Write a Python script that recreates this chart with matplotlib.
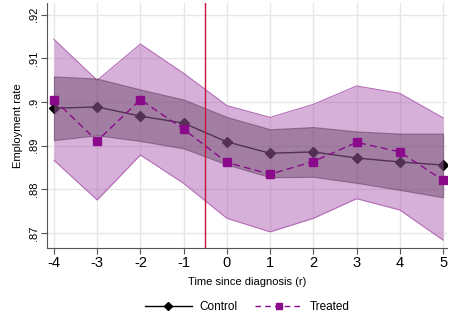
import matplotlib.pyplot as plt
from matplotlib.lines import Line2D

plt.rcParams['font.family'] = ['Liberation Sans', 'DejaVu Sans']

periods = [-4, -3, -2, -1, 0, 1, 2, 3, 4, 5]

control = [0.8986, 0.8989, 0.8968, 0.8952, 0.8909, 0.8883, 0.8886, 0.8872, 0.8863, 0.8856]
control_hi = [0.9059, 0.9054, 0.9029, 0.9006, 0.8966, 0.8938, 0.8943, 0.8933, 0.8928, 0.8928]
control_lo = [0.8913, 0.8924, 0.8911, 0.8894, 0.8857, 0.8828, 0.8829, 0.8815, 0.8799, 0.8782]

treated = [0.9006, 0.8911, 0.9006, 0.8938, 0.8862, 0.8835, 0.8864, 0.8908, 0.8886, 0.8821]
treated_hi = [0.9144, 0.9050, 0.9133, 0.9066, 0.8992, 0.8965, 0.8995, 0.9037, 0.9020, 0.8964]
treated_lo = [0.8867, 0.8776, 0.8879, 0.8814, 0.8734, 0.8703, 0.8734, 0.8779, 0.8753, 0.8684]

yticks = [0.87, 0.88, 0.89, 0.90, 0.91, 0.92]
ytick_labels = [".87", ".88", ".89", ".9", ".91", ".92"]

fig = plt.figure(figsize=(4.49, 3.2), dpi=100)
ax = fig.add_axes([47 / 449, 1 - 248 / 320, 400 / 449, 245 / 320])

# control line first, semi-transparent bands on top (as in the original)
ax.plot(periods, control, color='black', lw=1, marker='D', ms=5, zorder=2)
ax.fill_between(periods, treated_lo, treated_hi, color='#aa5aae', alpha=0.48, lw=0, zorder=3)
ax.plot(periods, treated_hi, color='#b46cb8', lw=0.8, zorder=3)
ax.plot(periods, treated_lo, color='#b46cb8', lw=0.8, zorder=3)
ax.fill_between(periods, control_lo, control_hi, color='#5a3a5a', alpha=0.42,
                edgecolor='#4a2445', lw=0.8, zorder=4)
ax.plot(periods, treated, color='#8b0a8b', lw=1, ls=(0, (5, 3)), marker='s', ms=5.5, zorder=5)
ax.axvline(-0.5, color='#c8143c', lw=1, zorder=6)

ax.set_xlim(-4.16, 5.09)
ax.set_ylim(0.8666, 0.9227)
ax.set_xticks(periods)
ax.set_xticklabels([str(p) for p in periods], fontsize=10.5)
ax.set_yticks(yticks)
ax.set_yticklabels(ytick_labels, fontsize=8, rotation=90, va='center')
ax.grid(color='#e6e6e6', lw=1)
ax.set_axisbelow(True)
for side in ['top', 'right']:
    ax.spines[side].set_visible(False)
for side in ['left', 'bottom']:
    ax.spines[side].set_color('#555555')
ax.tick_params(colors='#555555', labelcolor='black', length=4, pad=2)

ax.set_xlabel("Time since diagnosis (r)", fontsize=8, labelpad=5)
ax.set_ylabel("Employment rate", fontsize=8, labelpad=4)

handles = [
    Line2D([], [], color='black', lw=1, marker='D', ms=4.5),
    Line2D([], [], color='#8b0a8b', lw=1, ls=(0, (4, 3)), marker='s', ms=5),
]
fig.legend(handles, ["Control", "Treated"], loc='center', bbox_to_anchor=(247 / 449, 1 - 307 / 320),
           ncol=2, frameon=False, fontsize=8.5, handlelength=4.0, handletextpad=0.6,
           columnspacing=1.5)

fig.savefig("out.png", dpi=100)
